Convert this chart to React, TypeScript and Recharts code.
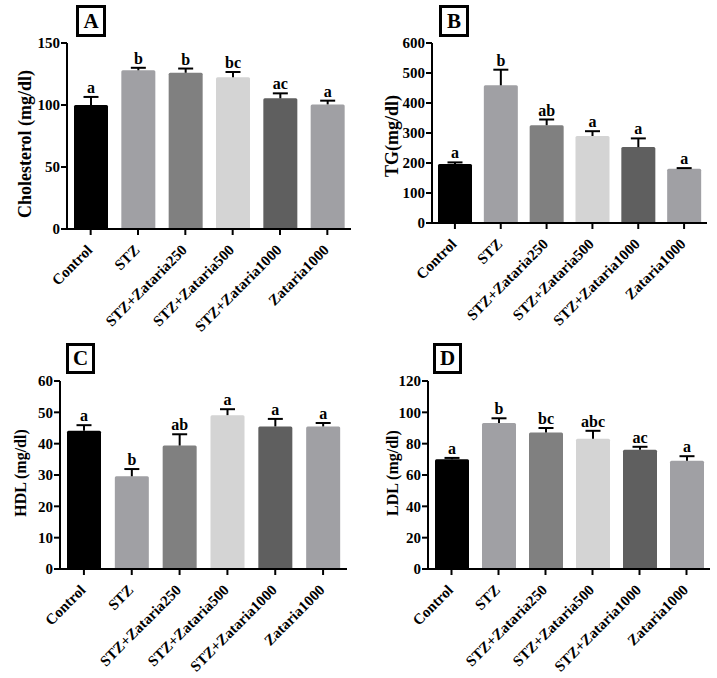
import { Bar, BarChart, Cell, XAxis, YAxis } from "recharts";

const groups = [
  "Control",
  "STZ",
  "STZ+Zataria250",
  "STZ+Zataria500",
  "STZ+Zataria1000",
  "Zataria1000",
];
const barColors = ["#000000", "#a0a0a4", "#808080", "#d4d4d4", "#5f5f5f", "#a0a0a4"];

const cholMean = [100, 128, 126, 122.3, 105.4, 100.5];
const cholErr = [6.5, 2, 3.4, 4.3, 4, 3];
const cholSig = ["a", "b", "b", "bc", "ac", "a"];
const cholTicks = [0, 50, 100, 150];

const tgMean = [197, 459, 326, 290, 253, 181];
const tgErr = [5, 52, 19, 16, 29, 2];
const tgSig = ["a", "b", "ab", "a", "a", "a"];
const tgTicks = [0, 100, 200, 300, 400, 500, 600];

const hdlMean = [44.1, 29.6, 39.4, 49.1, 45.5, 45.5];
const hdlErr = [1.8, 2.3, 3.6, 1.9, 2.4, 1.1];
const hdlSig = ["a", "b", "ab", "a", "a", "a"];
const hdlTicks = [0, 10, 20, 30, 40, 50, 60];

const ldlMean = [70.1, 93.2, 87.2, 83.1, 76.1, 69.1];
const ldlErr = [0.8, 3, 2.8, 5.1, 1.9, 2.9];
const ldlSig = ["a", "b", "bc", "abc", "ac", "a"];
const ldlTicks = [0, 20, 40, 60, 80, 100, 120];

const FONT = "'Liberation Serif', 'Times New Roman', serif";
const W = 358;
const H = 338;

function makeRows(mean: number[], err: number[], sig: string[]) {
  return groups.map((name, i) => ({ name, value: mean[i], err: err[i], sig: sig[i] }));
}

// bar + upper error bar + significance letter
function BarWithError(props: any) {
  const { x, y, width, height, fill, payload } = props;
  const perUnit = payload.value ? height / payload.value : 0;
  const e = payload.err * perUnit;
  const cx = x + width / 2;
  const top = y - e;
  return (
    <g>
      <rect x={x} y={y} width={width} height={height} fill={fill} rx={1.5} />
      <line x1={cx} x2={cx} y1={y} y2={top} stroke="#000" strokeWidth={2} />
      <line x1={cx - 7.5} x2={cx + 7.5} y1={top} y2={top} stroke="#000" strokeWidth={2} />
      <text
        x={cx}
        y={top - 4}
        textAnchor="middle"
        fontFamily={FONT}
        fontWeight="bold"
        fontSize={16}
        fill="#000"
      >
        {payload.sig}
      </text>
    </g>
  );
}

function GroupTick(props: any) {
  const { x, y, payload } = props;
  const ax = x + 2.5;
  const ay = y + 14;
  return (
    <text
      x={ax}
      y={ay}
      transform={`rotate(-45, ${ax}, ${ay})`}
      textAnchor="end"
      fontFamily={FONT}
      fontWeight="bold"
      fontSize={15}
      fill="#000"
    >
      {payload.value}
    </text>
  );
}

function Panel({
  left,
  top,
  letter,
  box,
  rows,
  ticks,
  title,
  titleX,
  titleY,
  titleSize,
  plotLeft,
  plotRight,
  plotTop,
  plotBottom,
}: any) {
  return (
    <div style={{ position: "absolute", left, top, width: W, height: H }}>
      <div
        style={{
          position: "absolute",
          left: box[0],
          top: box[1],
          width: box[2],
          height: box[3],
          boxSizing: "border-box",
          border: "3px solid #000",
          fontFamily: FONT,
          fontWeight: "bold",
          fontSize: 21,
          lineHeight: `${box[3] - 6}px`,
          textAlign: "center",
        }}
      >
        {letter}
      </div>
      <BarChart
        width={W}
        height={H}
        data={rows}
        margin={{ top: plotTop, right: W - plotRight, bottom: 0, left: 0 }}
      >
        <XAxis
          dataKey="name"
          interval={0}
          height={H - plotBottom}
          axisLine={{ stroke: "#000", strokeWidth: 2 }}
          tickLine={{ stroke: "#000", strokeWidth: 2 }}
          tickSize={6}
          tick={<GroupTick />}
        />
        <YAxis
          width={plotLeft}
          domain={[ticks[0], ticks[ticks.length - 1]]}
          ticks={ticks}
          interval={0}
          axisLine={{ stroke: "#000", strokeWidth: 2 }}
          tickLine={{ stroke: "#000", strokeWidth: 2 }}
          tickSize={6}
          tickMargin={1}
          tick={{ fill: "#000", fontFamily: FONT, fontWeight: "bold", fontSize: 15 }}
          label={{
            content: () => (
              <text
                x={titleX}
                y={titleY}
                transform={`rotate(-90, ${titleX}, ${titleY})`}
                textAnchor="middle"
                dominantBaseline="central"
                fontFamily={FONT}
                fontWeight="bold"
                fontSize={titleSize}
                fill="#000"
              >
                {title}
              </text>
            ),
          }}
        />
        <Bar dataKey="value" barSize={34} isAnimationActive={false} shape={<BarWithError />}>
          {rows.map((_: any, i: number) => (
            <Cell key={i} fill={barColors[i]} />
          ))}
        </Bar>
      </BarChart>
    </div>
  );
}

export default function App() {
  return (
    <div
      style={{
        position: "absolute",
        left: 0,
        top: 0,
        width: 717,
        height: 678,
        overflow: "hidden",
        background: "#fff",
      }}
    >
      <Panel
        left={0}
        top={0}
        letter="A"
        box={[76, 5, 30, 32]}
        rows={makeRows(cholMean, cholErr, cholSig)}
        ticks={cholTicks}
        title="Cholesterol (mg/dl)"
        titleX={25}
        titleY={144}
        titleSize={18}
        plotLeft={67}
        plotRight={351}
        plotTop={43}
        plotBottom={229}
      />
      <Panel
        left={360}
        top={0}
        letter="B"
        box={[79, 5, 30, 32]}
        rows={makeRows(tgMean, tgErr, tgSig)}
        ticks={tgTicks}
        title="TG(mg/dl)"
        titleX={32}
        titleY={136}
        titleSize={18}
        plotLeft={72}
        plotRight={347}
        plotTop={43}
        plotBottom={223}
      />
      <Panel
        left={0}
        top={340}
        letter="C"
        box={[66, 3, 29, 31]}
        rows={makeRows(hdlMean, hdlErr, hdlSig)}
        ticks={hdlTicks}
        title="HDL (mg/dl)"
        titleX={20}
        titleY={133}
        titleSize={16}
        plotLeft={60}
        plotRight={347}
        plotTop={41}
        plotBottom={229}
      />
      <Panel
        left={360}
        top={340}
        letter="D"
        box={[73, 3, 29, 31]}
        rows={makeRows(ldlMean, ldlErr, ldlSig)}
        ticks={ldlTicks}
        title="LDL (mg/dl)"
        titleX={32}
        titleY={133}
        titleSize={16}
        plotLeft={68}
        plotRight={350}
        plotTop={41}
        plotBottom={229}
      />
    </div>
  );
}
